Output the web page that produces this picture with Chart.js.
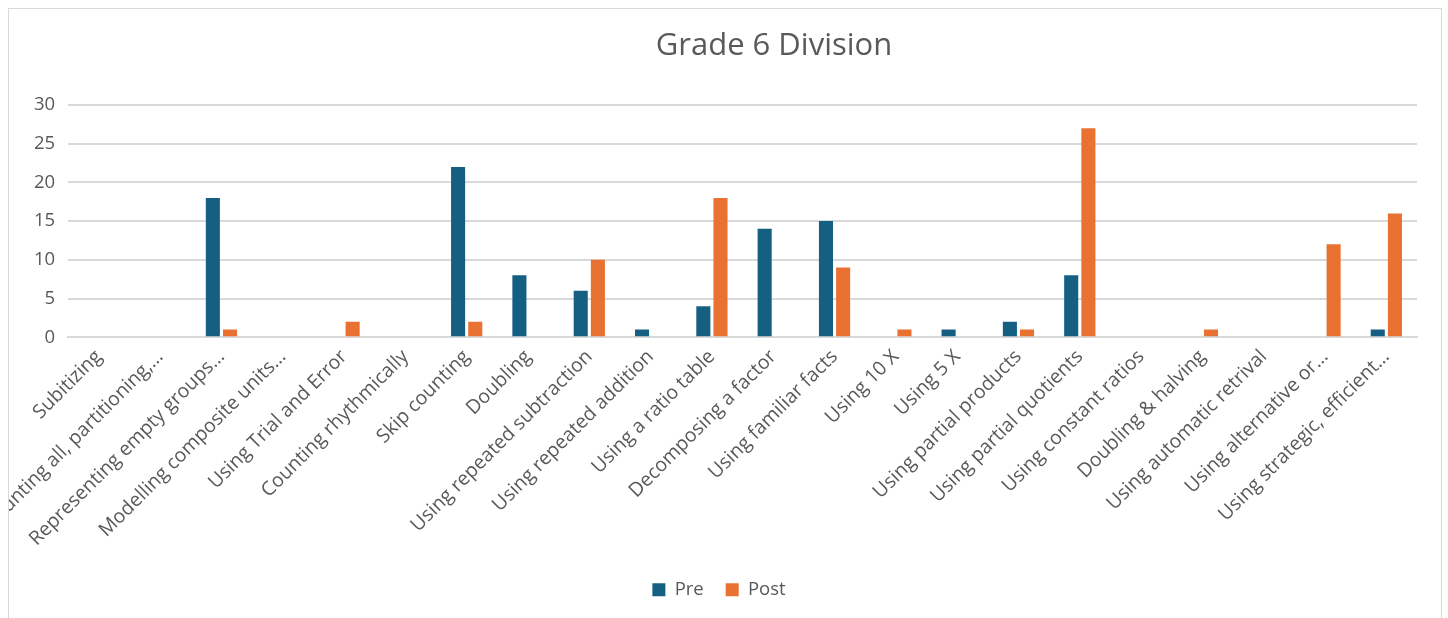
<!DOCTYPE html>
<html>
<head>
<meta charset="utf-8">
<script src="https://cdn.jsdelivr.net/npm/chart.js@4.4.1/dist/chart.umd.min.js"></script>
<style>
  html, body { margin: 0; padding: 0; background: #ffffff; }
  #frame {
    position: absolute; left: 8px; top: 8px; width: 1434px; height: 610px;
    border: 1px solid #d9d9d9; border-bottom: none; box-sizing: border-box;
    overflow: hidden; background: #fff;
  }
  #chart { display: block; }
</style>
</head>
<body>
<div id="frame"><canvas id="chart" width="1432" height="609"></canvas></div>
<script>
// Strategy categories (x axis)
const categories = [
  "Subitizing",
  "Counting all, partitioning,…",
  "Representing empty groups…",
  "Modelling composite units…",
  "Using Trial and Error",
  "Counting rhythmically",
  "Skip counting",
  "Doubling",
  "Using repeated subtraction",
  "Using repeated addition",
  "Using a ratio table",
  "Decomposing a factor",
  "Using familiar facts",
  "Using 10 X",
  "Using 5 X",
  "Using partial products",
  "Using partial quotients",
  "Using constant ratios",
  "Doubling & halving",
  "Using automatic retrival",
  "Using alternative or…",
  "Using strategic, efficient…"
];

// Number of students using each strategy
const preValues  = [0, 0, 18, 0, 0, 0, 22, 8, 6, 1, 4, 14, 15, 0, 1, 2, 8, 0, 0, 0, 0, 1];
const postValues = [0, 0, 1, 0, 2, 0, 2, 0, 10, 0, 18, 0, 9, 1, 0, 1, 27, 0, 1, 0, 12, 16];

const yTicks = { min: 0, max: 30, step: 5 };

const chartTitle = "Grade 6 Division";
const textColor = "#595959";
const gridColor = "#d9d9d9";
const fontFamily = "'Open Sans', 'Noto Sans', sans-serif";

// Title drawn a little right of the canvas centre, as in the workbook layout
const titlePlugin = {
  id: "offsetTitle",
  afterDraw(chart) {
    const ctx = chart.ctx;
    ctx.save();
    ctx.font = "normal 31px " + fontFamily;
    ctx.fillStyle = textColor;
    ctx.textAlign = "center";
    ctx.textBaseline = "middle";
    ctx.fillText(chartTitle, 765, 37);
    ctx.restore();
  }
};

new Chart(document.getElementById("chart"), {
  type: "bar",
  data: {
    labels: categories,
    datasets: [
      { label: "Pre",  data: preValues,  backgroundColor: "#156082", borderWidth: 0 },
      { label: "Post", data: postValues, backgroundColor: "#E97132", borderWidth: 0 }
    ]
  },
  plugins: [titlePlugin],
  options: {
    responsive: false,
    animation: false,
    datasets: { bar: { categoryPercentage: 0.56, barPercentage: 0.82 } },
    layout: { padding: { left: 12, right: 24, top: 96, bottom: 9 } },
    plugins: {
      title: { display: false },
      legend: {
        position: "bottom",
        labels: {
          color: textColor,
          font: { family: fontFamily, size: 18.5 },
          boxWidth: 13, boxHeight: 13, padding: 22
        }
      },
      tooltip: { enabled: false }
    },
    scales: {
      x: {
        grid: { display: false, drawTicks: false },
        border: { display: true, color: gridColor, width: 2 },
        ticks: {
          color: textColor,
          font: { family: fontFamily, size: 19.5 },
          minRotation: 45, maxRotation: 45, autoSkip: false, padding: 8
        }
      },
      y: {
        min: yTicks.min, max: yTicks.max,
        grid: { color: gridColor, lineWidth: 2, drawTicks: false },
        border: { display: false },
        ticks: {
          stepSize: yTicks.step,
          color: textColor,
          font: { family: fontFamily, size: 18.5 },
          padding: 13
        }
      }
    }
  }
});
</script>
</body>
</html>
